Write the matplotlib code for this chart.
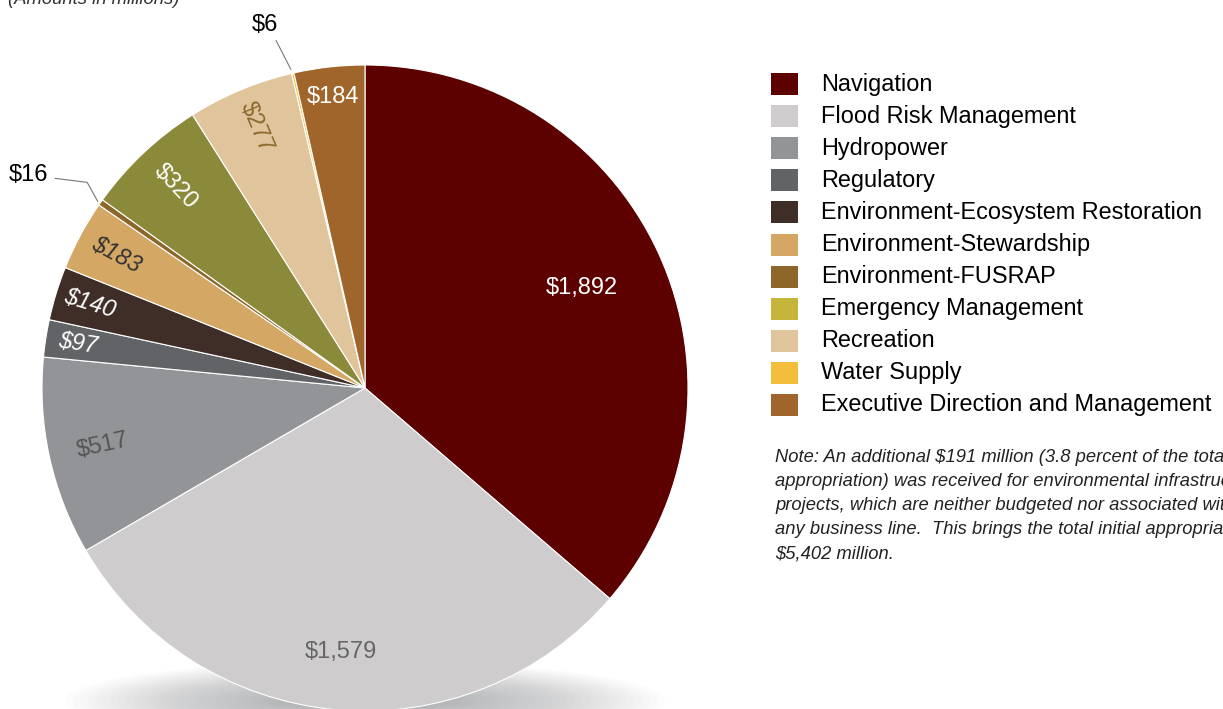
import numpy as np
import matplotlib
matplotlib.use("Agg")
import matplotlib.pyplot as plt
from matplotlib.patches import Ellipse, Rectangle

plt.rcParams['font.family'] = ['Liberation Sans', 'DejaVu Sans']
plt.rcParams['text.parse_math'] = False

# business lines, amounts in millions
categories = ['Navigation', 'Flood Risk Management', 'Hydropower', 'Regulatory',
              'Environment-Ecosystem Restoration', 'Environment-Stewardship',
              'Environment-FUSRAP', 'Emergency Management', 'Recreation',
              'Water Supply', 'Executive Direction and Management']
amounts = [1892, 1579, 517, 97, 140, 183, 16, 320, 277, 6, 184]
value_labels = ['$1,892', '$1,579', '$517', '$97', '$140', '$183',
                '$16', '$320', '$277', '$6', '$184']

slice_colors = ['#5c0000', '#cecccd', '#939498', '#626367', '#3f2e27', '#d4a764',
                '#8c6729', '#8a8a3a', '#e0c49c', '#f2be3c', '#a0652a']
legend_colors = ['#5c0000', '#cecccd', '#939498', '#626367', '#3f2e27', '#d4a764',
                 '#8c6729', '#c5b63b', '#e0c49c', '#f2be3c', '#a0652a']

# per-slice label styling: (radius fraction, rotate radially, color, italic)
label_style = [
    (0.74, False, 'white', False),
    (0.82, False, '#666666', False),
    (0.83, True, '#555555', False),
    (0.90, True, 'white', True),
    (0.89, True, 'white', True),
    (0.875, True, '#333333', True),
    (None, False, 'black', False),
    (0.855, True, 'white', False),
    (0.875, True, '#8c6a2e', False),
    (None, False, 'black', False),
    (0.905, False, 'white', False),
]

note_lines = [
    'Note: An additional $191 million (3.8 percent of the total',
    'appropriation) was received for environmental infrastructure',
    'projects, which are neither budgeted nor associated with',
    'any business line.  This brings the total initial appropriation to',
    '$5,402 million.',
]

W, H = 1223, 709
fig = plt.figure(figsize=(W / 100, H / 100), dpi=100)
ax = fig.add_axes([0, 0, 1, 1])

cx, cy, R = 365, H - 388, 323

# soft shadow under the pie
for k in range(30):
    ax.add_patch(Ellipse((cx, cy - R + 10), 600 - k * 15, 80 - k * 2.2,
                         color='#6c7074', alpha=0.02, lw=0, zorder=0))

wedges, _ = ax.pie(amounts, colors=slice_colors, startangle=90, counterclock=False,
                   center=(cx, cy), radius=R, frame=True,
                   wedgeprops=dict(edgecolor='white', linewidth=0.8))
ax.set_xlim(0, W)
ax.set_ylim(0, H)
ax.set_aspect('equal')
ax.axis('off')
for w in wedges:
    w.set_zorder(2)

for w, lab, (rf, rot, col, ital) in zip(wedges, value_labels, label_style):
    mid = np.deg2rad((w.theta1 + w.theta2) / 2)
    if rf is None:
        continue
    x = cx + rf * R * np.cos(mid)
    y = cy + rf * R * np.sin(mid)
    angle = np.rad2deg(mid) % 360 - 180 if rot else 0
    ax.text(x, y, lab, color=col, fontsize=17, ha='center', va='center',
            rotation=angle, rotation_mode='anchor',
            style='italic' if ital else 'normal', zorder=5)

# outside labels with leader lines
w = wedges[9]
mid = np.deg2rad((w.theta1 + w.theta2) / 2)
ex, ey = cx + R * np.cos(mid), cy + R * np.sin(mid)
ox, oy = cx + 1.11 * R * np.cos(mid + 0.025), cy + 1.11 * R * np.sin(mid + 0.025)
ax.plot([ex - 2, ox], [ey + 4, oy], color='#777777', lw=0.8, zorder=5)
ax.text(ox - 11, oy + 16, value_labels[9], fontsize=17, ha='center', va='center', zorder=5)

w = wedges[6]
mid = np.deg2rad((w.theta1 + w.theta2) / 2)
ex, ey = cx + R * np.cos(mid), cy + R * np.sin(mid)
bx, by = cx + 1.07 * R * np.cos(mid - 0.025), cy + 1.07 * R * np.sin(mid - 0.025)
ax.plot([ex - 3, bx, bx - 32], [ey + 1, by, by + 4], color='#777777', lw=0.8, zorder=5)
ax.text(bx - 39, by + 7, value_labels[6], fontsize=17, ha='right', va='center', zorder=5)

# legend
for i, (name, col) in enumerate(zip(categories, legend_colors)):
    yy = H - 84 - i * 32.1
    ax.add_patch(Rectangle((771, yy - 11), 27, 22, color=col, lw=0, zorder=5))
    ax.text(821, yy, name, fontsize=16.9, ha='left', va='center', color='black', zorder=5)

for i, line in enumerate(note_lines):
    ax.text(775, H - 458 - i * 24, line, fontsize=13.2, style='italic',
            color='#222222', ha='left', va='center', zorder=5)

fig.text(8 / W, 1 - 4 / H, '(Amounts in millions)', fontsize=13.3, style='italic',
         color='#333333', ha='left', va='baseline')

fig.savefig('out.png', dpi=100)
